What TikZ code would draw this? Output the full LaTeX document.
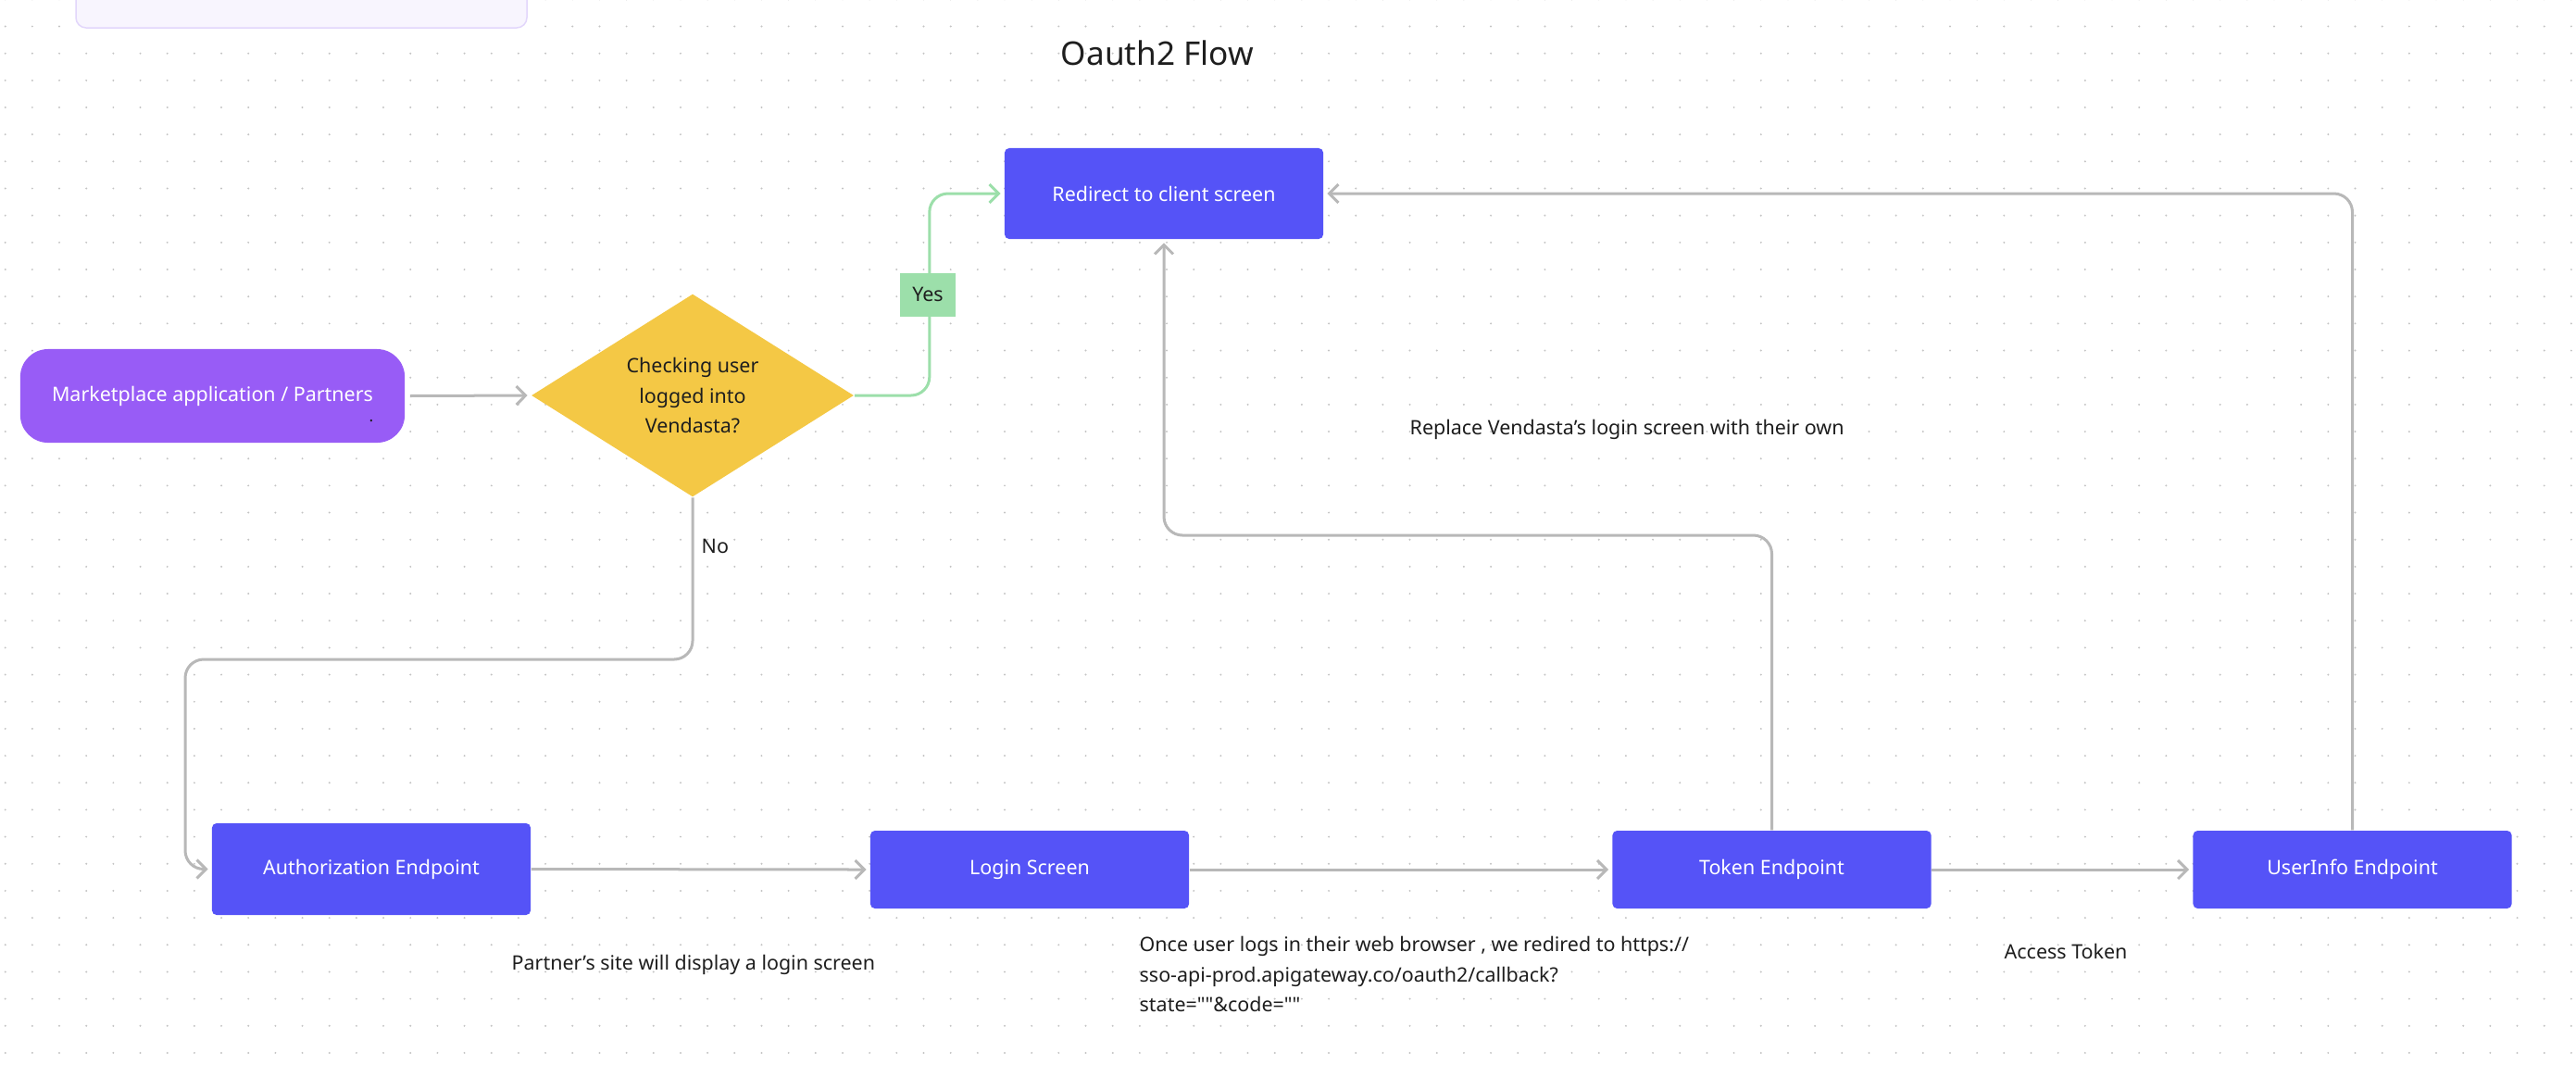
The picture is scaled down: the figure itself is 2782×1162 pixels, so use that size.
\documentclass[tikz,border=0pt]{standalone}
\usepackage{fontspec}
\setmainfont{Noto Sans}
\newfontfamily\nolig{Noto Sans}[Ligatures=TeXOff]
\usetikzlibrary{arrows.meta,shapes.geometric}
\definecolor{boxblue}{HTML}{5553F7}
\definecolor{pillpurple}{HTML}{985CF6}
\definecolor{decyellow}{HTML}{F4C845}
\definecolor{yesgreen}{HTML}{9CDFAA}
\definecolor{conngray}{HTML}{B8B8B8}
\definecolor{dotgray}{HTML}{C4C4C4}
\definecolor{inkdark}{HTML}{1E1E1E}
\definecolor{lavfill}{HTML}{F8F5FE}
\definecolor{lavdraw}{HTML}{E2D6FB}
\begin{document}
\begin{tikzpicture}[x=0.01cm,y=-0.01cm,
  bodyfont/.style={font=\fontsize{6.1pt}{9.25pt}\selectfont},
  bluebox/.style={fill=boxblue, rounded corners=0.5mm, text=white, minimum width=3.44cm, minimum height=0.84cm, inner sep=0pt, bodyfont},
  conn/.style={draw=conngray, line width=0.3mm, rounded corners=2mm, shorten >=1pt, -{Straight Barb[length=1mm,width=2mm]}},
  yesconn/.style={conn, draw=yesgreen},
  note/.style={text=inkdark, inner sep=0pt, bodyfont, anchor=west, align=left}
]
\useasboundingbox (0,0) rectangle (2782,1162);
\fill[white] (0,0) rectangle (2782,1162);
\foreach \i in {0,...,95}{
  \foreach \j in {0,...,40}{
    \fill[dotgray] ({5.7+29.17*\i},{-0.7+29.17*\j}) circle[radius=0.11mm];
  }
}
\begin{scope}
\clip (0,0) rectangle (2782,1162);
\draw[fill=lavfill, draw=lavdraw, line width=0.15mm, rounded corners=1.1mm] (82,-30) rectangle (569,30);
\end{scope}

\node[text=inkdark, font=\fontsize{10pt}{12pt}\selectfont, inner sep=0pt] (title) at (1250,57) {Oauth2 Flow};

\node[bluebox, minimum height=0.98cm] (red) at (1257,209) {Redirect to client screen};
\node[fill=pillpurple, rounded corners=3mm, text=white, minimum width=4.15cm, minimum height=1.01cm, inner sep=0pt, bodyfont] (mkt) at (229.5,427.5) {Marketplace application / Partners};
\node[text=inkdark, inner sep=0pt, font=\fontsize{5pt}{6pt}\selectfont] (dot) at (401,455) {.};
\node[diamond, fill=decyellow, shape aspect=1.59, minimum width=3.48cm, minimum height=2.19cm, inner sep=0pt, align=center, text=inkdark, bodyfont] (dec) at (748,427) {Checking user\\logged into\\Vendasta?};

\node[bluebox, minimum height=0.99cm] (auth) at (401,938.5) {Authorization Endpoint};
\node[bluebox] (login) at (1112,939) {Login Screen};
\node[bluebox] (tok) at (1913.5,939) {Token Endpoint};
\node[bluebox] (ui) at (2540.5,939) {UserInfo Endpoint};

\draw[conn, shorten <=0.5mm] (mkt.east) -- (dec.west);
\draw[yesconn] (dec.east) -- ++(81,0) |- (red.west);
\node[fill=yesgreen, text=inkdark, minimum width=0.59cm, minimum height=0.47cm, inner sep=0pt, bodyfont] (yes) at (1002,318) {Yes};
\draw[conn] (dec.south) -- (748,712) -- (200,712) |- (auth.west);
\node[note] (no) at (757,590) {No};
\draw[conn] (auth.east) -- (login.west);
\draw[conn] (login.east) -- (tok.west);
\draw[conn] (tok.east) -- (ui.west);
\draw[conn] (tok.north) -- (1913.5,578) -| (red.south);
\draw[conn] (ui.north) |- (red.east);

\node[note] (replace) at (1522,464) {Replace Vendasta’s login screen with their own};
\node[note] (partner) at (552,1042) {Partner’s site will display a login screen};
\node[note] (once) at (1230,1052) {Once user logs in their web browser , we redired to https://\\sso-api-prod.apigateway.co/oauth2/callback?\\{\nolig state=""\&code=""}};
\node[note] (access) at (2164,1027) {Access Token};
\end{tikzpicture}
\end{document}
